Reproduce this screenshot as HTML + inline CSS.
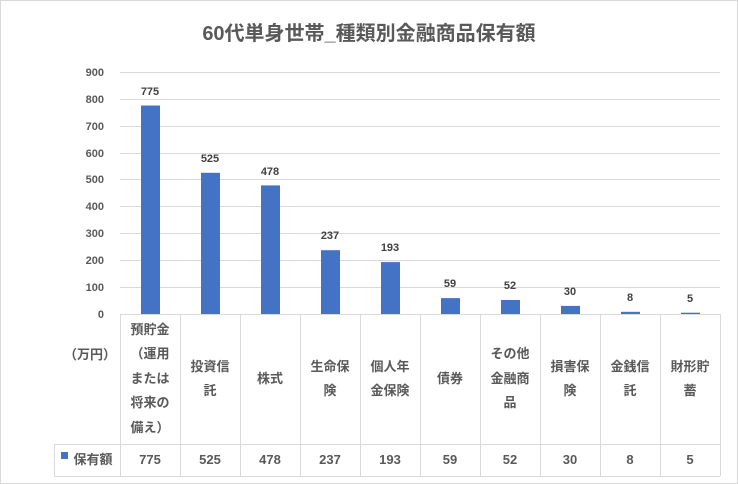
<!DOCTYPE html>
<html><head><meta charset="utf-8"><style>
body{margin:0;background:#fff}
svg{display:block;font-family:"Liberation Sans","Noto Sans CJK JP",sans-serif}
</style></head><body>
<svg width="738" height="484" viewBox="0 0 738 484">
<rect x="0.5" y="0.5" width="737" height="483" fill="#fff" stroke="#d9d9d9"/>
<text x="369" y="40" text-anchor="middle" font-size="20" font-weight="bold" fill="#595959">60代単身世帯_種類別金融商品保有額</text>
<g stroke="#d9d9d9" stroke-width="1">
<line x1="120" y1="72.5" x2="720" y2="72.5"/>
<line x1="120" y1="99.5" x2="720" y2="99.5"/>
<line x1="120" y1="126.5" x2="720" y2="126.5"/>
<line x1="120" y1="153.5" x2="720" y2="153.5"/>
<line x1="120" y1="179.5" x2="720" y2="179.5"/>
<line x1="120" y1="206.5" x2="720" y2="206.5"/>
<line x1="120" y1="233.5" x2="720" y2="233.5"/>
<line x1="120" y1="260.5" x2="720" y2="260.5"/>
<line x1="120" y1="287.5" x2="720" y2="287.5"/>
<line x1="120" y1="314.5" x2="720" y2="314.5"/>
<line x1="120.5" y1="314" x2="120.5" y2="476"/>
<line x1="180.5" y1="314" x2="180.5" y2="476"/>
<line x1="240.5" y1="314" x2="240.5" y2="476"/>
<line x1="300.5" y1="314" x2="300.5" y2="476"/>
<line x1="360.5" y1="314" x2="360.5" y2="476"/>
<line x1="420.5" y1="314" x2="420.5" y2="476"/>
<line x1="480.5" y1="314" x2="480.5" y2="476"/>
<line x1="540.5" y1="314" x2="540.5" y2="476"/>
<line x1="600.5" y1="314" x2="600.5" y2="476"/>
<line x1="660.5" y1="314" x2="660.5" y2="476"/>
<line x1="720.5" y1="314" x2="720.5" y2="476"/>
<line x1="54" y1="444.5" x2="720" y2="444.5"/>
<line x1="54" y1="476.5" x2="720" y2="476.5"/>
<line x1="54.5" y1="444" x2="54.5" y2="476"/>
</g>
<g font-size="11" fill="#595959" text-anchor="end" font-weight="bold">
<text x="104" y="76">900</text><text x="104" y="103">800</text><text x="104" y="130">700</text>
<text x="104" y="157">600</text><text x="104" y="183">500</text><text x="104" y="210">400</text>
<text x="104" y="237">300</text><text x="104" y="264">200</text><text x="104" y="291">100</text>
<text x="104" y="318">0</text>
</g>
<g fill="#4472c4">
<rect x="141" y="105.5" width="19" height="208.5"/>
<rect x="201" y="172.8" width="19" height="141.2"/>
<rect x="261" y="185.4" width="19" height="128.6"/>
<rect x="321" y="250.2" width="19" height="63.8"/>
<rect x="381" y="262.1" width="19" height="51.9"/>
<rect x="441" y="298.1" width="19" height="15.9"/>
<rect x="501" y="300" width="19" height="14"/>
<rect x="561" y="305.9" width="19" height="8.1"/>
<rect x="621" y="311.8" width="19" height="2.2"/>
<rect x="681" y="312.7" width="19" height="1.3"/>
</g>
<g font-size="11" fill="#404040" text-anchor="middle" font-weight="bold">
<text x="150" y="95">775</text><text x="210" y="162">525</text><text x="270" y="175">478</text>
<text x="330" y="239">237</text><text x="390" y="251">193</text><text x="450" y="287">59</text>
<text x="510" y="289">52</text><text x="570" y="295">30</text><text x="630" y="301">8</text>
<text x="690" y="302">5</text>
</g>
<g font-size="13" fill="#595959" text-anchor="middle" font-weight="bold">
<text x="90" y="359">（万円）</text>
<text x="150" y="334">預貯金</text><text x="150" y="358">（運用</text><text x="150" y="383">または</text><text x="150" y="407">将来の</text><text x="150" y="432">備え）</text>
<text x="210" y="371">投資信</text><text x="210" y="395">託</text>
<text x="270" y="383">株式</text>
<text x="330" y="371">生命保</text><text x="330" y="395">険</text>
<text x="390" y="371">個人年</text><text x="390" y="395">金保険</text>
<text x="450" y="383">債券</text>
<text x="510" y="358">その他</text><text x="510" y="383">金融商</text><text x="510" y="407">品</text>
<text x="570" y="371">損害保</text><text x="570" y="395">険</text>
<text x="630" y="371">金銭信</text><text x="630" y="395">託</text>
<text x="690" y="371">財形貯</text><text x="690" y="395">蓄</text>
</g>
<rect x="61" y="452" width="7" height="7" fill="#4472c4"/>
<g font-size="13" fill="#595959" text-anchor="middle" font-weight="bold">
<text x="93" y="464">保有額</text>
<text x="150" y="464">775</text><text x="210" y="464">525</text><text x="270" y="464">478</text>
<text x="330" y="464">237</text><text x="390" y="464">193</text><text x="450" y="464">59</text>
<text x="510" y="464">52</text><text x="570" y="464">30</text><text x="630" y="464">8</text><text x="690" y="464">5</text>
</g>
</svg>
</body></html>
